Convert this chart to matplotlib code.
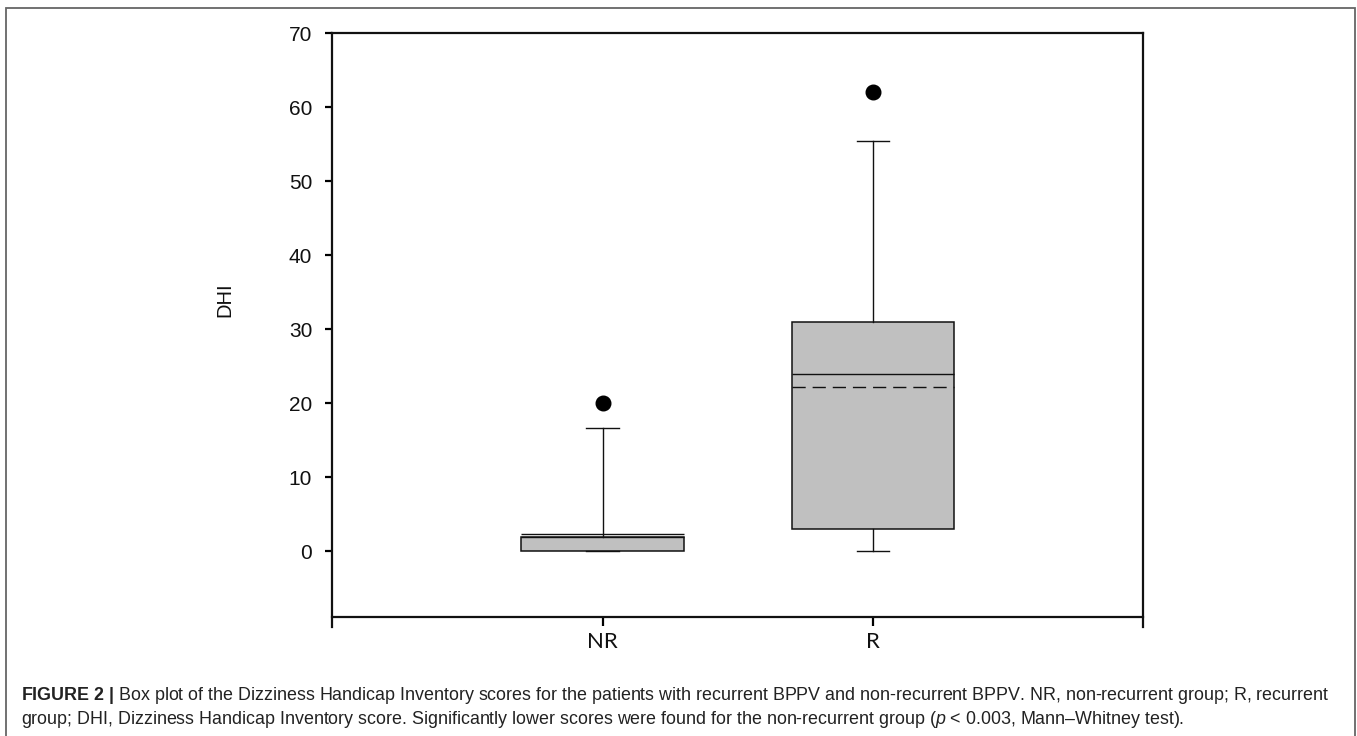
import matplotlib
matplotlib.use("Agg")
import matplotlib.pyplot as plt
from matplotlib.patches import Rectangle

# data
groups = ["NR", "R"]
q1 = [0, 3]
q3 = [2, 31]
medians = [2, 24]
means = [2.4, 22.2]
whisker_lo = [0, 0]
whisker_hi = [16.7, 55.5]
outliers = [[20], [62]]
yticks = [0, 10, 20, 30, 40, 50, 60, 70]

caption1 = (r"$\mathbf{FIGURE\ 2\ |}$ Box plot of the Dizziness Handicap Inventory scores for the patients "
            "with recurrent BPPV and non-recurrent BPPV. NR, non-recurrent group; R, recurrent")
caption2 = ("group; DHI, Dizziness Handicap Inventory score. Significantly lower scores were found for the "
            r"non-recurrent group ($\mathit{p}$ < 0.003, Mann–Whitney test).")

plt.rcParams['mathtext.fontset'] = 'custom'
plt.rcParams['mathtext.rm'] = 'Liberation Sans'
plt.rcParams['mathtext.bf'] = 'Liberation Sans:bold'
plt.rcParams['mathtext.it'] = 'Liberation Sans:italic'
plt.rcParams['lines.scale_dashes'] = False

fig = plt.figure(figsize=(13.57, 7.36), dpi=100)
ax = fig.add_axes([0.2449, 0.1481, 0.5974, 0.8067])

mean_styles = ['-', (0, (9.5, 5.0))]
for i in range(len(groups)):
    stats = [dict(med=medians[i], q1=q1[i], q3=q3[i], whislo=whisker_lo[i],
                  whishi=whisker_hi[i], fliers=outliers[i], mean=means[i])]
    ax.bxp(stats, positions=[i + 1], widths=0.6, capwidths=[0.12],
           patch_artist=True, showmeans=True, meanline=True, manage_ticks=False,
           boxprops=dict(facecolor='#c0c0c0', edgecolor='#111111', linewidth=1.1),
           medianprops=dict(color='#111111', linewidth=1.0),
           meanprops=dict(color='#111111', linewidth=1.0, linestyle=mean_styles[i]),
           whiskerprops=dict(color='#111111', linewidth=1.0),
           capprops=dict(color='#111111', linewidth=1.0),
           flierprops=dict(marker='o', markerfacecolor='black', markeredgecolor='black',
                           markersize=10.5))

ax.set_xlim(0, 3)
ax.set_ylim(-10.2, 70)
ax.set_yticks(yticks)
ax.set_yticklabels([str(v) for v in yticks])
ax.set_xticks([1, 2])
ax.set_xticklabels(groups)
ax.spines['bottom'].set_position(('data', -8.9))
for s in ax.spines.values():
    s.set_linewidth(1.6)
    s.set_color('#111111')
ax.tick_params(axis='y', length=5, width=1.6, pad=9.5, labelsize=15,
               labelcolor='#111111', labelfontfamily='Liberation Sans')
ax.tick_params(axis='x', length=6.5, width=1.6, pad=4, labelsize=16,
               labelcolor='#111111', labelfontfamily='Lato')
ax.set_ylabel("DHI", fontfamily='Liberation Sans', fontsize=14.5, color='#111111')
ax.yaxis.set_label_coords(-0.1213, 0.551)

# outer frame of the figure panel
fig.patches.append(Rectangle((6 / 1357, -0.02), 1349 / 1357, 1.02 - 8 / 736,
                             transform=fig.transFigure, fill=False,
                             edgecolor='#666666', linewidth=1.3))

# caption, scaled so the first line fills the panel width
t1 = fig.text(0.0155, 1 - 700 / 736, caption1, fontfamily='Liberation Sans', fontsize=12,
              color='#222222', va='baseline', ha='left')
t2 = fig.text(0.0155, 1 - 724 / 736, caption2, fontfamily='Liberation Sans', fontsize=12,
              color='#222222', va='baseline', ha='left')
r = fig.canvas.get_renderer()
w = t1.get_window_extent(r).width
fs = 12 * 1309 / w
t1.set_fontsize(fs)
t2.set_fontsize(fs)

fig.savefig("out.png", dpi=100)
